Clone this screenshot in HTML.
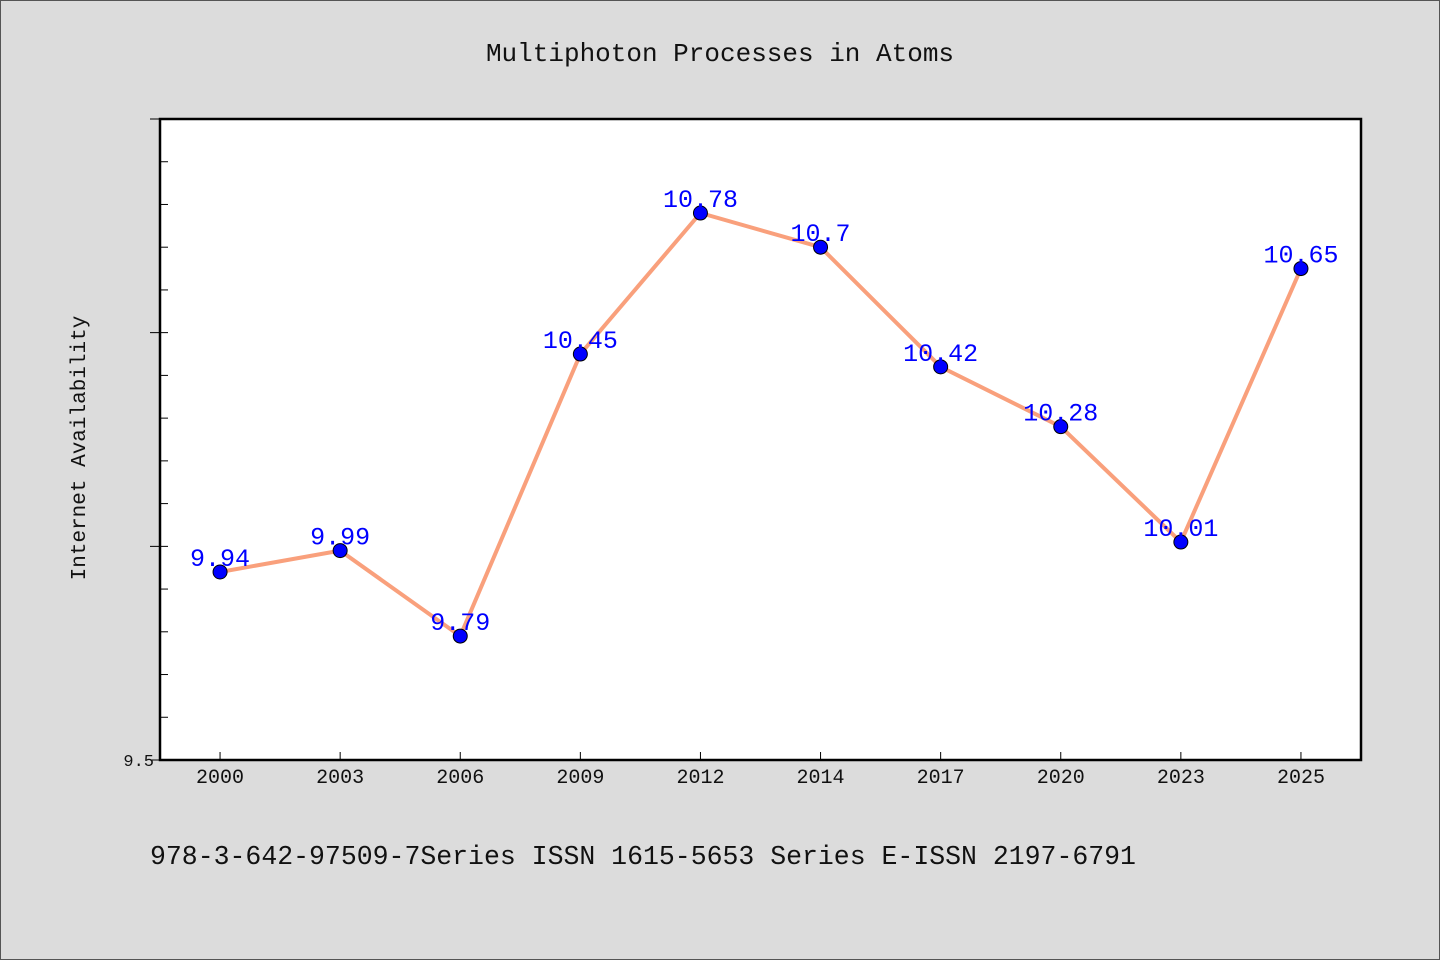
<!DOCTYPE html>
<html><head><meta charset="utf-8"><style>
html,body{margin:0;padding:0;background:#dcdcdc;}
svg{display:block;font-family:"Liberation Mono",monospace;}
</style></head><body>
<svg id="chart" width="1440" height="960">
<rect x="0.5" y="0.5" width="1439" height="959" fill="#dcdcdc" stroke="#555"/>
<text x="720" y="61" text-anchor="middle" font-size="26" fill="#111">Multiphoton Processes in Atoms</text>
<rect x="160" y="119" width="1201" height="641" fill="#fff" stroke="#000" stroke-width="2.5"/>
<text x="85" y="448" text-anchor="middle" font-size="21" fill="#111" transform="rotate(-90 85 448)">Internet Availability</text>
<text x="150" y="864" font-size="26.5" fill="#111">978-3-642-97509-7Series ISSN 1615-5653 Series E-ISSN 2197-6791</text>
<g id="yticks"></g><g id="xticks"></g><g id="series"></g>
</svg>
<script>
const categories=["2000","2003","2006","2009","2012","2014","2017","2020","2023","2025"];
const values=[9.94,9.99,9.79,10.45,10.78,10.7,10.42,10.28,10.01,10.65];
const yTickLabels=["9.5"];
const yMin=9.5,yMax=11.0;
const px0=160,pw=1201,py0=119,ph=641;
const ns="http://www.w3.org/2000/svg";
function x(i){return px0+pw/categories.length*(i+0.5);}
function y(v){return py0+ph-(v-yMin)/(yMax-yMin)*ph;}
function mk(t,a,p){const e=document.createElementNS(ns,t);for(const k in a)e.setAttribute(k,a[k]);p.appendChild(e);return e;}
const yt=document.getElementById('yticks');
for(let k=0;k<=15;k++){const v=yMin+k*0.1;const yy=y(v);const major=(k%5===0);
const l=mk('line',{x1:major?150:px0,x2:px0+8,y1:yy,y2:yy,stroke:'#000','stroke-width':1},yt);

}
yTickLabels.forEach(s=>{const t=mk('text',{x:154,y:y(parseFloat(s))+6,'text-anchor':'end','font-size':17,fill:'#111'},yt);t.textContent=s;

});
const xt=document.getElementById('xticks');
categories.forEach((c,i)=>{const l=mk('line',{x1:x(i),x2:x(i),y1:760,y2:752,stroke:'#000'},xt);


const t=mk('text',{x:x(i),y:783,'text-anchor':'middle','font-size':20,fill:'#111'},xt);t.textContent=c;

});
const sg=document.getElementById('series');
const pl=mk('polyline',{points:values.map((v,i)=>x(i)+','+y(v)).join(' '),fill:'none',stroke:'#f9a07c','stroke-width':4},sg);


values.forEach((v,i)=>{const c=mk('circle',{cx:x(i),cy:y(v),r:7,fill:'#0000ff',stroke:'#000','stroke-width':1},sg);


const t=mk('text',{x:x(i),y:y(v)-6,'text-anchor':'middle','font-size':25,fill:'#0000ff'},sg);t.textContent=String(v);

});
</script>
</body></html>
